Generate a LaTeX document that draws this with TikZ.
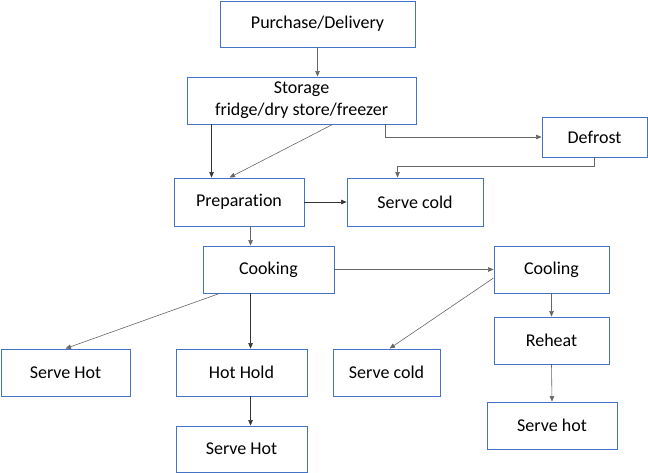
\documentclass[tikz,border=0pt]{standalone}
\usepackage{fontspec}
\setmainfont[Ligatures=NoCommon]{Carlito}
\usetikzlibrary{arrows.meta,calc}
\definecolor{boxblue}{HTML}{4472C4}
\begin{document}
\begin{tikzpicture}[x=1bp,y=-1bp,
  box/.style={draw=boxblue,line width=0.9bp,fill=white,inner sep=0pt,
    align=center,font=\fontsize{18bp}{22bp}\selectfont,text=black},
  conn/.style={draw=black!80,line width=0.6bp,-{Triangle[length=5.5bp,width=4.5bp]}},
  connl/.style={conn,draw=black!60},
]
\useasboundingbox (0,0) rectangle (648,473);
\node[box,minimum width=195bp,minimum height=46bp] (purchase) at (317.5,24) {Purchase/Delivery};
\node[box,minimum width=105bp,minimum height=40bp] (defrost) at (594.5,137) {Defrost};
\node[box,minimum width=229bp,minimum height=47bp] (storage) at (301.5,100.5) {Storage\\fridge/dry store/freezer};
\node[box,minimum width=130bp,minimum height=48bp] (prep) at (239,202) {Preparation};
\node[box,minimum width=136bp,minimum height=48bp] (cold1) at (415,202) {Serve cold};
\node[box,minimum width=131bp,minimum height=47bp] (cooking) at (268.5,269.5) {Cooking};
\node[box,minimum width=115bp,minimum height=47bp] (cooling) at (551.5,269.5) {Cooling};
\node[box,minimum width=115bp,minimum height=47bp] (reheat) at (551.5,340.5) {Reheat};
\node[box,minimum width=130bp,minimum height=47bp] (hot2) at (552,425.5) {Serve hot};
\node[box,minimum width=107bp,minimum height=47bp] (cold2) at (386.5,372.5) {Serve cold};
\node[box,minimum width=129bp,minimum height=47bp] (hotL) at (65.5,372.5) {Serve Hot};
\node[box,minimum width=131bp,minimum height=47bp] (hothold) at (241.5,372.5) {Hot Hold};
\node[box,minimum width=131bp,minimum height=46bp] (hot3) at (241.5,449) {Serve Hot};

\draw[connl] (purchase.south) -- (purchase.south |- storage.north);
\draw[conn] ([xshift=25bp]storage.south west) -- ([xshift=25bp]storage.south west |- prep.north);
\draw[connl] ([xshift=146bp]storage.south west) -- ([xshift=56bp]prep.north west);
\draw[connl] ([xshift=199bp]storage.south west) |- (defrost.west);
\draw[connl] (defrost.south) -- ++(0,9) -| ([xshift=51bp]cold1.north west);
\draw[conn] (prep.east) -- (cold1.west);
\draw[connl] ([xshift=77bp]prep.south west) -- ([xshift=77bp]prep.south west |- cooking.north);
\draw[connl] (cooking.east) -- (cooling.west);
\draw[connl] ([xshift=17bp]cooking.south west) -- (hotL.north);
\draw[conn] ([xshift=48bp]cooking.south west) -- ([xshift=48bp]cooking.south west |- hothold.north);
\draw[conn] ([xshift=75bp]hothold.south west) -- ([xshift=75bp]hothold.south west |- hot3.north);
\draw[connl] ([yshift=-8.5bp]cooling.west) -- ([xshift=57bp]cold2.north west);
\draw[connl] (cooling.south) -- (reheat.north);
\draw[connl] (reheat.south) -- (hot2.north);
\end{tikzpicture}
\end{document}
